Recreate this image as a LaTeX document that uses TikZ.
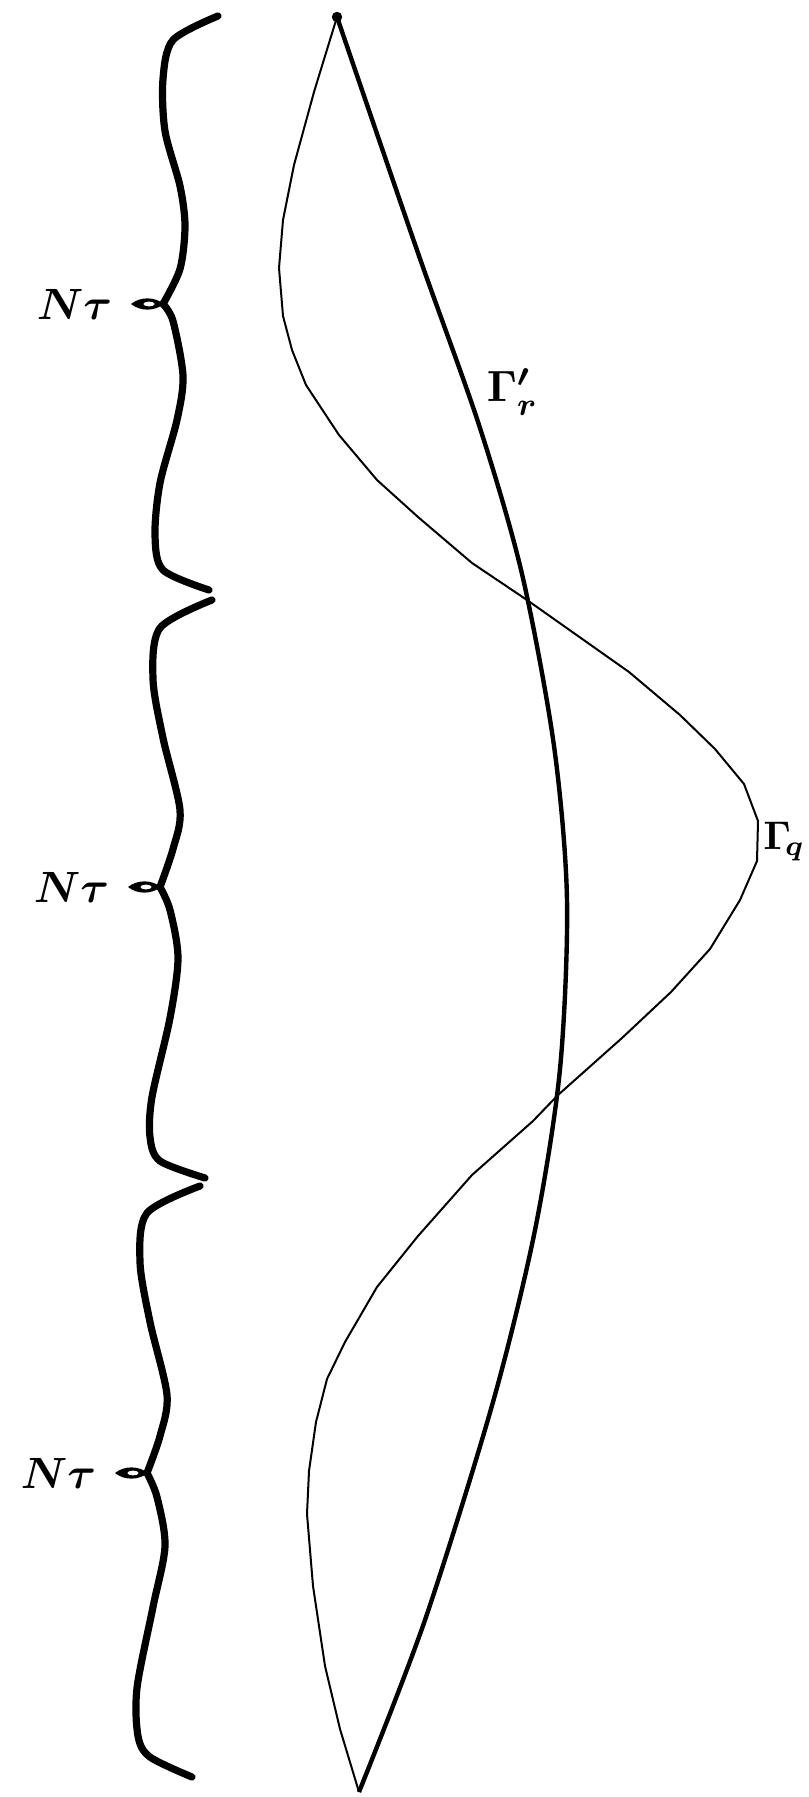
\documentclass[tikz,border=0pt]{standalone}
\usepackage{amsmath, amssymb}
\usetikzlibrary{positioning}

\begin{document}
\begin{tikzpicture}[x=0.25pt, y=-0.25pt, line join=round,
    brace/.style={line width=1.8pt, line cap=round},
    lab/.style={font=\fontsize{11}{13}\selectfont\boldmath, inner sep=0pt}]
        \useasboundingbox (0,0) rectangle (808,1797);

        % End points
        \coordinate (top) at (337,17);
        \coordinate (bot) at (359,1792);
        \fill (top) circle (1.3pt);

        % Braces
        \draw[brace] plot[smooth] coordinates {(218,16) (173,40) (163,79) (165,131) (180,186) (185,226) (180,269) (163,304)};
        \draw[brace] plot[smooth] coordinates {(163,304) (173,321) (183,376) (177,420) (160,483) (155,535) (163,570) (209,590)};
        \draw[brace] plot[smooth] coordinates {(212,600) (160,628) (153,679) (163,738) (180,810) (173,849) (160,887)};
        \draw[brace] plot[smooth] coordinates {(160,887) (170,910) (178,958) (170,1018) (152,1097) (150,1137) (160,1161) (205,1178)};
        \draw[brace] plot[smooth] coordinates {(200,1186) (147,1213) (140,1262) (150,1322) (167,1395) (160,1436) (147,1473)};
        \draw[brace] plot[smooth] coordinates {(147,1473) (157,1497) (165,1546) (153,1607) (137,1688) (138,1736) (150,1757) (192,1777)};

        % Brace tips and labels
        \foreach \i/\x/\y in {1/163/304, 2/160/887, 3/147/1473} {
            \coordinate (tip\i) at (\x-32,\y);
            \fill (tip\i) .. controls (\x-22,\y-8) and (\x-8,\y-7) .. (\x+1,\y) .. controls (\x-8,\y+7) and (\x-22,\y+8) .. (tip\i) -- cycle;
            \fill[white] (\x-14,\y) ellipse [x radius=1.4pt, y radius=0.6pt];
            \node[lab, left=4.5pt of tip\i] (nt\i) {$N\tau$};
        }

        % Gamma'_r
        \draw[line width=1.1pt] plot[smooth] coordinates {(337,17) (418,253) (479,425) (522,574) (554,746) (567,900) (560,1069) (535,1230) (493,1402) (425,1620) (359,1792)};
        \node[lab, anchor=base west] (gr) at (486,402) {$\Gamma'_r$};

        % Gamma_q
        \draw[line width=0.5pt] (top) -- (314,92) -- (294,165) -- (283,220) -- (279,268) -- (283,316) -- (292,350) -- (306,385) -- (339,435) -- (377,480) -- (418,517) -- (472,563) -- (527,600) -- (629,672) -- (680,715) -- (715,749) -- (744,784) -- (758,821) -- (757,861) -- (740,900) -- (710,949) -- (671,992) -- (622,1038) -- (558,1095) -- (533,1121) -- (472,1175) -- (418,1236) -- (377,1287) -- (345,1342) -- (327,1379) -- (316,1422) -- (309,1471) -- (307,1514) -- (313,1586) -- (325,1666) -- (340,1729) -- (bot);
        \node[lab, font=\fontsize{10}{12}\selectfont\boldmath, anchor=base east] (gq) at (806,849) {$\Gamma_{\!q}$};
    \end{tikzpicture}
\end{document}
